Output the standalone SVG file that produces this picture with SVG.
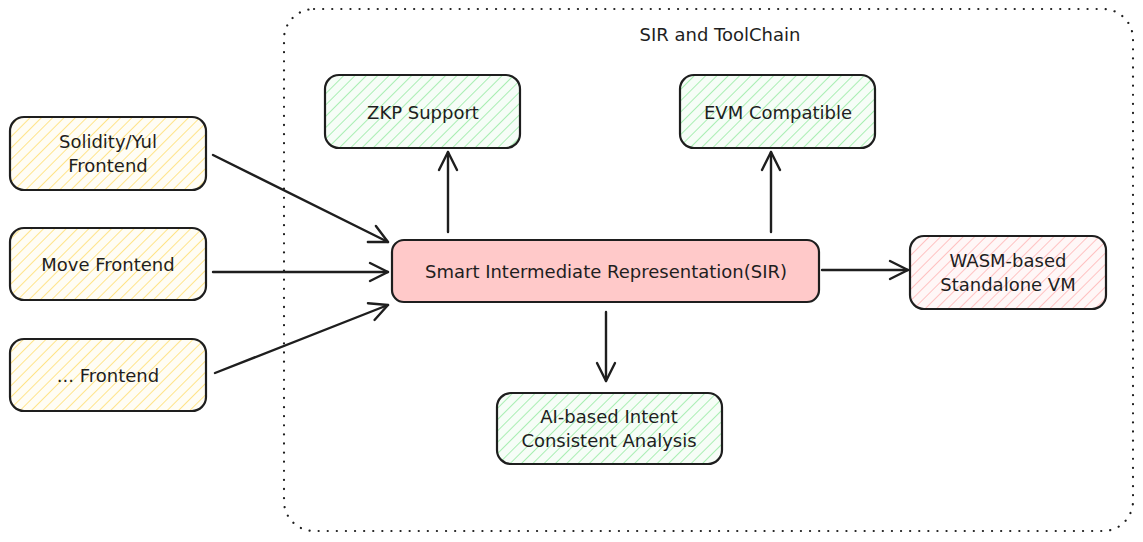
<svg xmlns="http://www.w3.org/2000/svg" width="1143" height="542" viewBox="0 0 1143 542">
<defs>
<style>
.box{stroke:#1e1e1e;stroke-width:2.2;}
.t{font-family:"DejaVu Sans","Liberation Sans",sans-serif;font-size:18px;fill:#1e1e1e;text-anchor:middle;dominant-baseline:central;}
.c{stroke:#1e1e1e;stroke-width:2.4;fill:none;stroke-linecap:round;}
</style>
<pattern id="hy" patternUnits="userSpaceOnUse" width="8" height="8" patternTransform="rotate(45)"><rect width="8" height="8" fill="#fffdf5"/><line x1="0" y1="0" x2="0" y2="8" stroke="#ffe48a" stroke-width="2"/></pattern>
<pattern id="hg" patternUnits="userSpaceOnUse" width="8" height="8" patternTransform="rotate(45)"><rect width="8" height="8" fill="#f6fdf7"/><line x1="0" y1="0" x2="0" y2="8" stroke="#a9eeb3" stroke-width="2"/></pattern>
<pattern id="hr" patternUnits="userSpaceOnUse" width="8" height="8" patternTransform="rotate(45)"><rect width="8" height="8" fill="#fff7f7"/><line x1="0" y1="0" x2="0" y2="8" stroke="#ffc2c2" stroke-width="2"/></pattern>
<marker id="ah" viewBox="0 0 24 24" refX="21" refY="12" markerWidth="24" markerHeight="24" markerUnits="userSpaceOnUse" orient="auto"><path d="M3,3 L21,12 L3,21" fill="none" stroke="#1e1e1e" stroke-width="2.4" stroke-linecap="round" stroke-linejoin="round"/></marker>
</defs>
<rect width="1143" height="542" fill="#ffffff"/>
<g id="container">
<rect x="284" y="9" width="849" height="522" rx="30" fill="none" stroke="#1e1e1e" stroke-width="2.2" stroke-dasharray="0.1 9" stroke-linecap="round"/>
<text class="t" x="720" y="34">SIR and ToolChain</text>
</g>
<g id="zkp"><rect class="box" x="325" y="75" width="195" height="73" rx="14" fill="url(#hg)"/><text class="t" x="423" y="112">ZKP Support</text></g>
<g id="evm"><rect class="box" x="680" y="75" width="195" height="73" rx="14" fill="url(#hg)"/><text class="t" x="778" y="112">EVM Compatible</text></g>
<g id="solidity"><rect class="box" x="10" y="117" width="196" height="73" rx="14" fill="url(#hy)"/><text class="t" x="108" y="141">Solidity/Yul</text><text class="t" x="108" y="165">Frontend</text></g>
<g id="move"><rect class="box" x="10" y="228" width="196" height="72" rx="14" fill="url(#hy)"/><text class="t" x="108" y="264">Move Frontend</text></g>
<g id="other"><rect class="box" x="10" y="339" width="196" height="72" rx="14" fill="url(#hy)"/><text class="t" x="108" y="375">... Frontend</text></g>
<g id="sir"><rect class="box" x="392" y="240" width="427" height="62" rx="12" fill="#ffc9c9"/><text class="t" x="606" y="271">Smart Intermediate Representation(SIR)</text></g>
<g id="wasm"><rect class="box" x="910" y="236" width="196" height="73" rx="14" fill="url(#hr)"/><text class="t" x="1008" y="260">WASM-based</text><text class="t" x="1008" y="284">Standalone VM</text></g>
<g id="ai"><rect class="box" x="497" y="393" width="225" height="71" rx="14" fill="url(#hg)"/><text class="t" x="609" y="416">AI-based Intent</text><text class="t" x="609" y="440">Consistent Analysis</text></g>
<g id="connectors">
<line class="c" x1="213" y1="155" x2="388" y2="242" marker-end="url(#ah)"/>
<line class="c" x1="213" y1="272" x2="388" y2="272" marker-end="url(#ah)"/>
<line class="c" x1="215" y1="373" x2="388" y2="305" marker-end="url(#ah)"/>
<line class="c" x1="448" y1="232" x2="448" y2="152" marker-end="url(#ah)"/>
<line class="c" x1="771" y1="232" x2="771" y2="152" marker-end="url(#ah)"/>
<line class="c" x1="822" y1="270" x2="908" y2="270" marker-end="url(#ah)"/>
<line class="c" x1="606" y1="312" x2="606" y2="381" marker-end="url(#ah)"/>
</g>
</svg>
